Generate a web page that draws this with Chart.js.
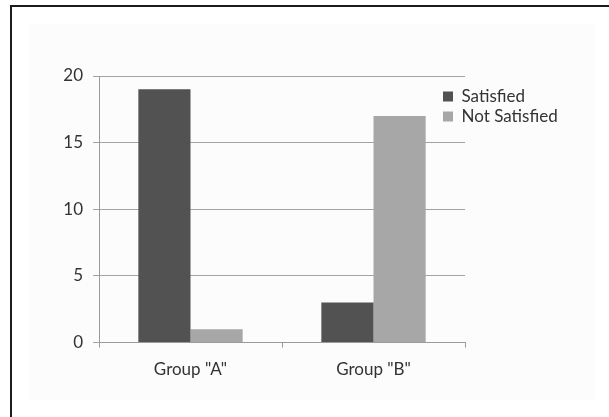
<!DOCTYPE html>
<html>
<head>
<meta charset="utf-8">
<script src="https://cdn.jsdelivr.net/npm/chart.js@4/dist/chart.umd.min.js"></script>
<style>
    body { margin: 0; background: #fff; }
    #wrap { position: relative; width: 609px; height: 417px; overflow: hidden; }
    #frame { position: absolute; left: 10px; top: 5px; width: 620px; height: 430px;
             border-top: 2px solid #1c1c1c; border-left: 2px solid #1c1c1c; }
    #bg { position: absolute; left: 30px; top: 24px; width: 565px; height: 376px; background: #fcfcfc; }
    canvas { position: absolute; left: 0; top: 0; }
</style>
</head>
<body>
<div id="wrap">
    <div id="frame"></div>
    <div id="bg"></div>
    <canvas id="canvas" width="609" height="417"></canvas>
</div>
<script>
const groups = ['Group "A"', 'Group "B"']
const satisfied = [19, 3]
const notSatisfied = [1, 17]
const yTicks = [0, 5, 10, 15, 20]

const FONT = 'Lato, "Open Sans", sans-serif'

// move the legend next to the top right of the plot, like the original
const legendMover = {
    id: 'legendMover',
    afterLayout(chart) {
        const legend = chart.legend
        const pad = legend.options.labels.padding
        const w = legend.right - legend.left
        const h = legend.bottom - legend.top
        legend.left = 443 - pad
        legend.right = legend.left + w
        legend.top = 88 - pad
        legend.bottom = legend.top + h
    }
}

const canvas = document.getElementById('canvas')
new Chart(canvas, {
    type: 'bar',
    data: {
        labels: groups,
        datasets: [
            {
                label: 'Satisfied',
                data: satisfied,
                backgroundColor: '#525252',
                borderWidth: 0
            },
            {
                label: 'Not Satisfied',
                data: notSatisfied,
                backgroundColor: '#a7a7a7',
                borderWidth: 0
            }
        ]
    },
    options: {
        responsive: false,
        animation: false,
        categoryPercentage: 0.57,
        barPercentage: 1,
        layout: { padding: { top: 76, right: 144, bottom: 25, left: 0 } },
        scales: {
            x: {
                grid: { display: true, drawOnChartArea: false, drawTicks: true, tickLength: 5, color: '#9a9a9a' },
                border: { display: true, color: '#9a9a9a' },
                ticks: { color: '#333', font: { family: FONT, size: 17 }, padding: 12 }
            },
            y: {
                min: 0,
                max: 20,
                afterFit(scale) { scale.width = 99 },
                afterBuildTicks(scale) { scale.ticks = yTicks.map(v => ({ value: v })) },
                grid: { color: '#a3a3a3', tickLength: 6 },
                border: { display: true, color: '#9a9a9a' },
                ticks: { color: '#333', font: { family: FONT, size: 17 }, padding: 10 }
            }
        },
        plugins: {
            legend: {
                position: 'chartArea',
                align: 'start',
                labels: {
                    boxWidth: 10,
                    boxHeight: 10,
                    padding: 3,
                    color: '#333',
                    font: { family: FONT, size: 17 }
                }
            },
            tooltip: { enabled: false }
        }
    },
    plugins: [legendMover]
})
</script>
</body>
</html>
